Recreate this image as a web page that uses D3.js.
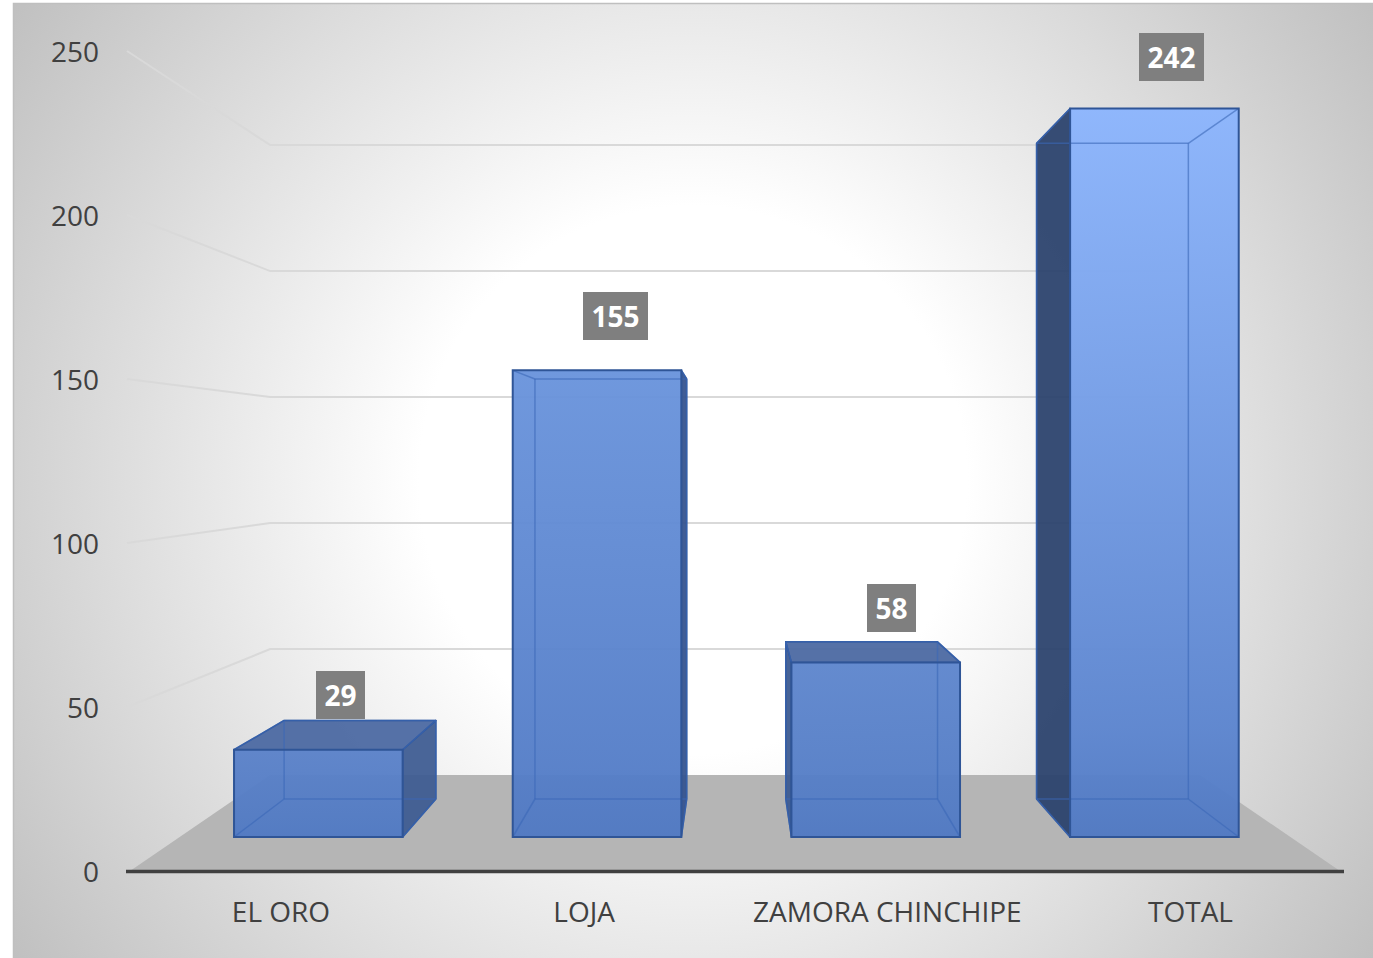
<!DOCTYPE html>
<html><head><meta charset="utf-8">
<script src="https://cdn.jsdelivr.net/npm/d3@7"></script>
<style>html,body{margin:0;padding:0;background:#fff;overflow:hidden}svg{display:block}text{font-family:"Open Sans",sans-serif}</style>
</head><body><div id="c"></div>
<script>
const categories = ["EL ORO","LOJA","ZAMORA CHINCHIPE","TOTAL"];
const values = [29,155,58,242];
const yTicks = [0,50,100,150,200,250];

const W=1373,H=958;
const svg=d3.select("#c").append("svg").attr("width",W).attr("height",H);
const defs=svg.append("defs");
const bg=defs.append("radialGradient").attr("id","bg").attr("gradientUnits","userSpaceOnUse")
  .attr("cx",693).attr("cy",480).attr("r",830);
bg.append("stop").attr("offset",0.33).attr("stop-color","#ffffff");
bg.append("stop").attr("offset",1).attr("stop-color","#c0c0c0");
svg.append("rect").attr("x",13.5).attr("y",3.5).attr("width",W).attr("height",H)
  .attr("fill","url(#bg)").attr("stroke","#bfbfbf").attr("stroke-width",1.5);

// projection: X on the front plane, v value, k depth scale about the vanishing point
const vp={x:735,y:457}, baseY=871, kBack=126/164, kBarFront=380/414, kBarBack=342/414;
const x=d3.scaleBand().domain(categories).range([130,1343]).paddingInner(.395).paddingOuter(.195);
const y=d3.scaleLinear().domain([0,250]).range([0,820]);
const P=(X,v,k)=>[vp.x+(X-vp.x)*k, vp.y+(baseY-vp.y)*k-y(v)*k];
const line=d3.line();
const poly=pts=>line(pts)+"Z";

// floor
const floorL=130, floorR=1340;
svg.append("path").attr("d",poly([P(floorL,0,1),P(floorL,0,kBack),P(floorR,0,kBack),P(floorR,0,1)])).attr("fill","#b5b5b5");

// gridlines
svg.append("g").selectAll("path").data(yTicks.slice(1)).join("path")
  .attr("d",t=>line([P(floorL-3,t,1),P(floorL,t,kBack),P(floorR,t,kBack)]))
  .attr("fill","none").attr("stroke","#d9d9d9").attr("stroke-width",2);

const topCol=d3.scaleLinear().domain([29,155,242]).range(["#5b82c9","#6a94dc","#8cb5fd"]);
const darkCol=d3.scaleLinear().domain([29,155,242]).range(["#3f5d92","#36548f","#2c436e"]);

const bars=svg.append("g").selectAll("g").data(categories.map((c,i)=>({c,v:values[i]}))).join("g");
bars.each(function(d,i){
  const g=d3.select(this);
  const L=x(d.c),R=L+x.bandwidth(),f=kBarFront,b=kBarBack,v=d.v;
  const gid="bar"+i;
  const gr=defs.append("linearGradient").attr("id",gid).attr("x1",0).attr("x2",0).attr("y1",0).attr("y2",1);
  gr.append("stop").attr("offset",0).attr("stop-color",topCol(v));
  gr.append("stop").attr("offset",.85).attr("stop-color",d3.interpolateRgb(topCol(v),"#5079c3")(.8));
  gr.append("stop").attr("offset",1).attr("stop-color","#5079c3");
  const fp=[P(L,v,f),P(R,v,f),P(R,0,f),P(L,0,f)];
  const bp=[P(L,v,b),P(R,v,b),P(R,0,b),P(L,0,b)];
  // dark outer faces
  const dark=(pts,col)=>g.append("path").attr("d",poly(pts)).attr("fill",col).attr("fill-opacity",.95)
     .attr("stroke","#2f5597").attr("stroke-width",1.5).attr("stroke-linejoin","round");
  if(bp[0][0]<fp[0][0]) dark([fp[0],bp[0],bp[3],fp[3]],darkCol(v));
  if(bp[1][0]>fp[1][0]) dark([fp[1],bp[1],bp[2],fp[2]],darkCol(v));
  if(bp[0][1]<fp[0][1]) dark([fp[0],bp[0],bp[1],fp[1]],"#4c69a2");
  // front face
  g.append("path").attr("d",poly(fp)).attr("fill",`url(#${gid})`).attr("fill-opacity",.96);
  // inner edges seen through the front
  const inner=[[bp[0],bp[1]],[bp[1],bp[2]],[bp[2],bp[3]],[bp[3],bp[0]],[fp[0],bp[0]],[fp[1],bp[1]],[fp[2],bp[2]],[fp[3],bp[3]]];
  g.append("g").selectAll("path").data(inner).join("path").attr("d",s=>line(s))
    .attr("fill","none").attr("stroke","#3a68b8").attr("stroke-opacity",.6).attr("stroke-width",1.5);
  g.append("path").attr("d",poly(fp)).attr("fill","none").attr("stroke","#2f5597").attr("stroke-width",2);
});

// baseline
svg.append("line").attr("x1",126).attr("x2",1344).attr("y1",baseY+.5).attr("y2",baseY+.5)
  .attr("stroke","#404040").attr("stroke-width",3.5);

// value axis
const yAxis=d3.scaleLinear().domain([0,250]).range([baseY+.5,51.5]);
const ga=svg.append("g").attr("transform","translate(99,0)")
  .call(d3.axisLeft(yAxis).tickValues(yTicks).tickSize(0).tickPadding(0));
ga.select(".domain").remove();
ga.selectAll("text").attr("font-size",28).attr("fill","#404040").style("font-family",'"Open Sans",sans-serif').attr("dy","0.35em");

// category axis
const xAxis=d3.scalePoint().domain(categories).range([280.5,1190]);
const gb=svg.append("g").attr("transform","translate(0,912)")
  .call(d3.axisBottom(xAxis).tickSize(0).tickPadding(0));
gb.select(".domain").remove();
gb.selectAll("text").attr("font-size",28).attr("fill","#404040").style("font-family",'"Open Sans",sans-serif').attr("dy","0.35em").attr("y",0);

// data labels
const lx=d3.scaleLinear().domain([0,1,2,3]).range([340.5,615.5,891.5,1171.5]);
const ly=d3.scaleLinear().domain([29,58,155,242]).range([695,608,316,57]);
const lab=svg.append("g").selectAll("g").data(values).join("g")
  .attr("transform",(v,i)=>`translate(${lx(i)},${ly(v)})`);
const bw=v=>String(v).length>2?65:49;
lab.append("rect").attr("x",v=>-bw(v)/2).attr("y",-24).attr("width",bw).attr("height",48).attr("fill","#7f7f7f");
lab.append("text").text(v=>v).attr("text-anchor","middle").attr("dy","0.38em")
  .attr("font-size",28).attr("font-weight",700).attr("fill","#fff");
</script></body></html>
